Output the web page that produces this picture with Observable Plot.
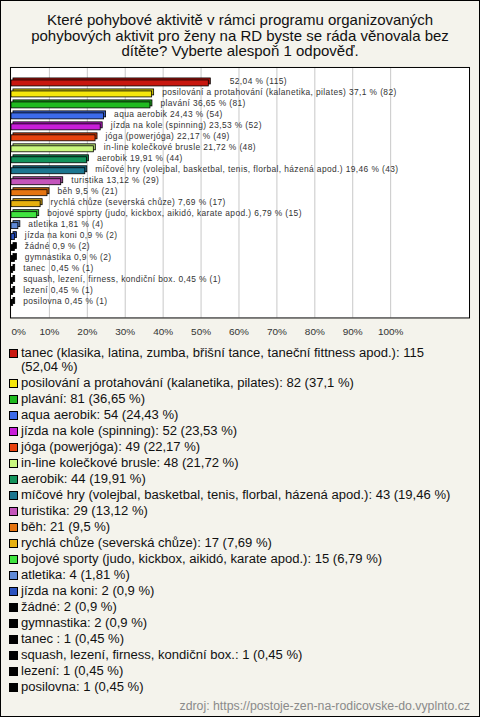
<!DOCTYPE html>
<html>
<head>
<meta charset="utf-8">
<script src="https://cdn.jsdelivr.net/npm/d3@7"></script>
<script src="https://cdn.jsdelivr.net/npm/@observablehq/plot@0.6"></script>
<style>
  body { margin: 0; background: #fff; }
  #page { position: relative; width: 480px; height: 717px; box-sizing: border-box; border: 1px solid #000;
          background: #f4f3ec; font-family: "Liberation Sans", Arial, sans-serif; overflow: hidden; }
  #title { position: absolute; top: 11px; left: 0; width: 478px; text-align: center; font-size: 15px;
           line-height: 15.5px; color: #111; }
  #chart { position: absolute; top: 55px; left: -1px; }
  #legend { position: absolute; top: 345px; left: 7px; width: 468px; font-size: 13.05px; line-height: 13.5px; color: #111; }
  .item { display: flex; align-items: flex-start; margin-bottom: 2.5px; }
  .sw { flex: none; width: 7px; height: 7px; border: 1px solid #000; margin: 3px 3px 0 1px; }
  .txt { flex: 1; }
  #source { position: absolute; right: 9px; top: 698px; font-size: 12.3px; color: #8a8a8a; }
</style>
</head>
<body>
<div id="page">
  <div id="title"></div>
  <div id="chart"></div>
  <div id="legend"></div>
  <div id="source"></div>
</div>
<script>
const titleLines = [
  "Které pohybové aktivitě v rámci programu organizovaných",
  "pohybových aktivit pro ženy na RD byste se ráda věnovala bez",
  "dítěte? Vyberte alespoň 1 odpověď."
];
const names = [
  "tanec (klasika, latina, zumba, břišní tance, taneční fittness apod.)",
  "posilování a protahování (kalanetika, pilates)",
  "plavání",
  "aqua aerobik",
  "jízda na kole (spinning)",
  "jóga (powerjóga)",
  "in-line kolečkové brusle",
  "aerobik",
  "míčové hry (volejbal, basketbal, tenis, florbal, házená apod.)",
  "turistika",
  "běh",
  "rychlá chůze (severská chůze)",
  "bojové sporty (judo, kickbox, aikidó, karate apod.)",
  "atletika",
  "jízda na koni",
  "žádné",
  "gymnastika",
  "tanec ",
  "squash, lezení, firness, kondiční box.",
  "lezení",
  "posilovna"
];
const counts = [115, 82, 81, 54, 52, 49, 48, 44, 43, 29, 21, 17, 15, 4, 2, 2, 2, 1, 1, 1, 1];
const pcts = [52.04, 37.1, 36.65, 24.43, 23.53, 22.17, 21.72, 19.91, 19.46, 13.12, 9.5, 7.69, 6.79, 1.81, 0.9, 0.9, 0.9, 0.45, 0.45, 0.45, 0.45];
const colors = ["#c8170f", "#f5e60c", "#1fba1f", "#3d6bea", "#c81ed8", "#e8420e", "#c9f77e", "#13935b",
  "#1c7690", "#c455bb", "#e57410", "#e6b00f", "#3fe33f", "#5f8ad6", "#2a52bf",
  "#000000", "#000000", "#000000", "#000000", "#000000", "#000000"];
const tickValues = [0, 10, 20, 30, 40, 50, 60, 70, 80, 90, 100];
const sourceText = "zdroj: https://postoje-zen-na-rodicovske-do.vyplnto.cz";

const fmt = v => String(v).replace(".", ",");
const rows = names.map((n, i) => ({
  i, name: n, count: counts[i], pct: pcts[i], color: colors[i],
  back: d3.color(colors[i]).darker(0.5).formatHex(),
  label: (i === 0 ? "" : n + " ") + fmt(pcts[i]) + " % (" + counts[i] + ")"
}));

document.getElementById("title").innerHTML = titleLines.join("<br>");
document.getElementById("source").textContent = sourceText;

const labelStyle = { textAnchor: "start", dy: -2, fontSize: 8.4, fill: "#333" };
const chart = Plot.plot({
  width: 480,
  height: 290,
  marginLeft: 11,
  marginRight: 10,
  marginTop: 11,
  marginBottom: 28,
  style: { fontFamily: "'Liberation Sans', Arial, sans-serif", background: "transparent" },
  x: { domain: [0, 120.8], axis: null },
  y: { domain: names, axis: null, paddingInner: 0.5, paddingOuter: 0.25 },
  marks: [
    Plot.frame({ fill: "#fff", stroke: "none" }),
    Plot.ruleX(tickValues.slice(1), { stroke: "#c8c8c8", strokeWidth: 1 }),
    Plot.barX(rows, { x: "pct", y: "name", fill: "back", stroke: "#000", strokeWidth: 0.8, dx: 2, dy: -2 }),
    Plot.barX(rows, { x: "pct", y: "name", fill: "color", stroke: "#000", strokeWidth: 0.8 }),
    Plot.text(rows.filter(d => d.i === 0), { x: "pct", y: "name", text: "label", dx: 21, ...labelStyle }),
    Plot.text(rows.filter(d => d.i > 0), { x: "pct", y: "name", text: "label", dx: 10, ...labelStyle }),
    Plot.frame({ stroke: "#000", strokeWidth: 1, insetLeft: -1 }),
    Plot.axisX([0], { label: null, tickSize: 0, tickPadding: 10, tickFormat: d => d + "%", textAnchor: "start", fontSize: 10, fill: "#333" }),
    Plot.axisX(tickValues.slice(1), { label: null, tickSize: 0, tickPadding: 10, tickFormat: d => d + "%", fontSize: 10, fill: "#333" })
  ]
});
d3.select(chart).selectAll("g[font-size='8.4'] text, text[font-size='8.4']").style("letter-spacing", "0.4px");
document.getElementById("chart").appendChild(chart);

const legend = document.getElementById("legend");
rows.forEach(d => {
  const it = document.createElement("div");
  it.className = "item";
  const sw = document.createElement("span");
  sw.className = "sw";
  sw.style.background = d.color;
  const tx = document.createElement("span");
  tx.className = "txt";
  tx.textContent = d.name + ": " + d.count + " (" + fmt(d.pct) + "\u00a0%)";
  it.appendChild(sw);
  it.appendChild(tx);
  legend.appendChild(it);
});
</script>
</body>
</html>
